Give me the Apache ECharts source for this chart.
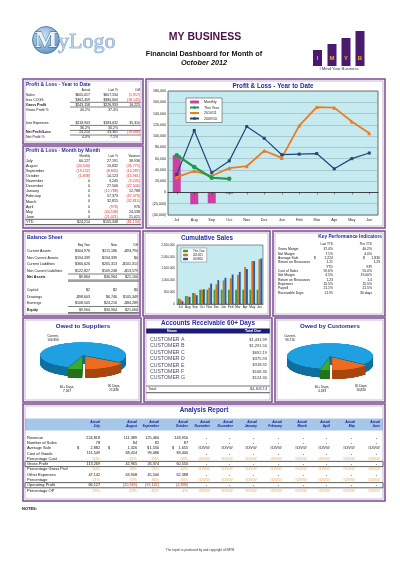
<!DOCTYPE html>
<html><head><meta charset="utf-8">
<script src="https://cdn.jsdelivr.net/npm/echarts@6/dist/echarts.min.js"></script>
<style>
html,body{margin:0;padding:0;background:#fff;}
#main{position:absolute;left:0;top:0;width:400px;height:566px;}
.pie{position:absolute;width:100px;height:134px;transform:scaleY(0.3);transform-origin:0 0;}
</style></head><body>
<div id="main"></div>
<div id="pieSup" class="pie" style="left:33px;top:340px;"></div>
<div id="pieCus" class="pie" style="left:280px;top:341px;"></div>
<script>
// ---------------- DATA ----------------
const plMonths = ['Jul','Aug','Sep','Oct','Nov','Dec','Jan','Feb','Mar','Apr','May','Jun'];
const plMonthly = [66127, -20943, -19132, -1838];
const plThisYear = [66127, 45184, 26052, 24214];
const pl2010 = [27191, 38023, 29178, 43301, 46546, 74052, 61264, 118637, 151452, 150476, 125938, 104917];
const pl2009 = [32000, 110000, 35000, 56000, 117000, 96000, 67000, 68000, 69000, 42000, 60000, 70000];

const csThisYear = [224818, 336207, 461667, 605617, 605617, 605617, 605617, 605617, 605617, 605617, 605617, 605617];
const cs2010 = [190000, 330000, 450000, 607534, 690000, 830000, 1000000, 1090000, 1230000, 1570000, 1820000, 1890000];
const cs2009 = [115000, 300000, 370000, 625000, 865000, 1010000, 1110000, 1250000, 1360000, 1480000, 1820000, 1930000];

const pieCats = ['Current', '30 Days', '60+ Days'];
const owedToSuppliers = [106890, 21836, 7567];
const owedByCustomers = [96716, 16830, 4333];

const arCustomers = ['CUSTOMER A','CUSTOMER B','CUSTOMER C','CUSTOMER D','CUSTOMER E','CUSTOMER F','CUSTOMER G'];
const arDue = [1431.99, 1291.50, 692.19, 375.93, 318.92, 168.30, 124.30];
const arTotal = 4403.13;

const ytdLabels = ['Sales','less COGS','Gross Profit','Gross Profit %','less Expenses','','Net Profit/Loss','Net Profit %'];
const ytdActual = ['$605,617','$362,459','$243,158','40.2%','$218,943','36.2%','24,214','4.0%'];
const ytdLastYr = ['$607,534','$380,600','$226,933','37.4%','$183,632','30.2%','43,301','7.1%'];
const ytdDiff = ['(1,917)','(18,141)','16,225','','35,310','','(19,086)',''];

const mbmMonths = ['July','August','September','October','November','December','January','February','March','April','May','June'];
const mbmMonthly = [66127,-20943,-19132,-1838,0,0,0,0,0,0,0,0];
const mbmLastYr = [27191,10832,-8845,14123,3245,27506,-12788,57373,32815,-976,-24538,-21021];
const mbmVariance = [38936,-31775,-10287,-15961,-3245,-27506,12788,-57373,-32815,976,24538,21021];
const mbmYtd = ['$24,214','$105,348','(81,134)'];

const bsLabels1 = ['Current Assets','Non Current Assets','Current Liabilities','Non Current Liabilities','Net Assets'];
const bsBeg1 = ['$304,976','$194,339','$366,626','$122,827','$9,864'];
const bsNow1 = ['$211,186','$194,339','$265,313','$109,248','$30,964'];
const bsDiff1 = ['-$93,790','$0','-$101,313','-$13,579','$21,100'];
const bsLabels2 = ['Capital','Drawings','Earnings','Equity'];
const bsBeg2 = ['$2','-$98,603','$108,505','$9,904'];
const bsNow2 = ['$2','$6,746','$24,216','$30,964'];
const bsDiff2 = ['$0','$105,349','-$84,289','$21,060'];

const kpiLabels = ['Gross Margin','Net Margin','Average Sale','Return on Resources','','Cost of Sales','Net Margin','Return on Resources','Expenses','Payroll','Receivable Days'];
const kpiLast = ['37.4%','7.1%','2,224','1.21','YTD','59.6%','4.5%','1.23','15.5%','21.1%','21.91'];
const kpiThis = ['40.2%','4.0%','1,830','1.23','KPI','55.0%','19.00%','1.4','15.5%','21.5%','30 days'];

const anMonths = ['July','August','September','October','November','December','January','February','March','April','May','June'];
const anRevenue = [224818, 111389, 125460, 143950];
const anSales = [78, 84, 82, 87];
const anAvgSale = [2882, 1326, 1530, 1655];
const anCOGS = [111549, 68424, 99086, 83400];
const anPctCost = [50, 61, 79, 58];
const anGross = [113269, 42965, 26374, 60550];
const anPctGross = [50, 39, 21, 42];
const anOther = [47142, 63908, 45506, 62388];
const anPctOther = [21, 57, 36, 43];
const anOpProfit = [66127, -20943, -19132, -1838];
const anPctOP = [29, -19, -15, -1];

// ---------------- HELPERS ----------------
const FF = 'Liberation Sans, Arial, sans-serif';
const TBLUE = '#1f2d9e';
const RED = '#e3261c';
const ORG = '#f4a040';
const fmtN = v => v < 0 ? '(' + Math.abs(v).toLocaleString('en-US') + ')' : v.toLocaleString('en-US');
const G = [];
function T(x, y, s, o) {
  o = o || {};
  const a = o.a || 'left';
  const st = {text: String(s), fill: o.c || '#111', fontSize: o.fs || 3.6,
    fontWeight: o.b ? 'bold' : 'normal', fontStyle: o.i ? 'italic' : 'normal',
    fontFamily: o.ff || FF, align: a, textAlign: a, verticalAlign: 'middle', textVerticalAlign: 'middle'};
  if (o.st) { st.stroke = o.st; st.lineWidth = o.lw || 0.5; }
  G.push({type: 'text', x: x, y: y, silent: true, z: o.z || 30, style: st});
}
function R(x, y, w, h, fill, stroke, lw, z) {
  G.push({type: 'rect', silent: true, z: z || 1, shape: {x: x, y: y, width: w, height: h},
    style: {fill: fill || 'none', stroke: stroke || 'none', lineWidth: lw || 0}});
}
function L(x1, y1, x2, y2, c, w) {
  G.push({type: 'line', silent: true, z: 25, shape: {x1: x1, y1: y1, x2: x2, y2: y2}, style: {stroke: c || '#333', lineWidth: w || 0.5}});
}
function panel(x, y, w, h) {
  R(x, y, w, h, null, '#7b4a90', 1.5, 40);
  R(x + 2, y + 2, w - 4, h - 4, null, '#a98bb8', 0.6, 40);
}
const colorOf = s => String(s).charAt(0) === '(' ? RED : '#111';

// ---------------- HEADER ----------------
G.push({type: 'circle', silent: true, z: 5, shape: {cx: 46, cy: 40, r: 13.5},
  style: {fill: {type: 'radial', x: 0.4, y: 0.35, r: 0.8, colorStops: [{offset: 0, color: '#cfe2f2'}, {offset: 1, color: '#4f86b8'}]}, stroke: '#3a6d9c', lineWidth: 0.8}});
T(46, 41, 'M', {fs: 24, b: true, ff: 'Liberation Serif, serif', c: '#e9f2fa', st: '#2f5f8f', lw: 0.8, a: 'center'});
T(58, 42, 'yLogo', {fs: 22, ff: 'Liberation Serif, serif', c: '#b3cde6', st: '#5a86b2', lw: 0.6});
T(205, 37, 'MY BUSINESS', {fs: 10.5, b: true, c: '#4a0f4a', a: 'center'});
T(204, 54, 'Financial Dashboard for Month of', {fs: 7.3, b: true, c: '#111', a: 'center'});
T(204, 63, 'October 2012', {fs: 7.3, b: true, i: true, c: '#111', a: 'center'});
// IMYB logo
const logoLetters = ['I', 'M', 'Y', 'B'];
const logoX = [313, 327.5, 341.5, 355.5];
const logoTop = [50, 44, 38, 31];
logoLetters.forEach((l, i) => {
  R(logoX[i], logoTop[i], 9, 66 - logoTop[i], '#4a1970', null, 0, 5);
  T(logoX[i] + 4.5, 58.5, l, {fs: 6, b: true, c: '#f5b21e', a: 'center'});
});
T(339, 68.5, 'I Mind Your Business', {fs: 4.2, c: '#3d1f6b', a: 'center'});

// ---------------- PANELS ----------------
panel(23, 79, 120, 65);
panel(23, 146, 120, 82);
panel(146, 79, 239, 149);
panel(23, 231, 117, 85);
panel(143, 231, 127, 85);
panel(273, 231, 112, 85);
panel(23, 318, 118, 84);
panel(144, 318, 128, 84);
panel(275, 318, 110, 84);
panel(23, 404, 362, 97);

// ---------------- P&L YTD TABLE ----------------
const c3 = [90, 118, 140];
T(26, 84.5, 'Profit & Loss - Year to Date', {fs: 5, b: true, c: TBLUE});
T(c3[0], 90.5, 'Actual', {fs: 3, a: 'right'});
T(c3[1], 90.5, 'Last Yr', {fs: 3, a: 'right'});
T(c3[2], 90.5, 'Diff', {fs: 3, a: 'right'});
ytdLabels.forEach((lab, i) => {
  const y = i < 4 ? 95.5 + i * 4.7 : 123 + (i - 4) * 4.7;
  const bold = lab === 'Gross Profit' || lab === 'Net Profit/Loss';
  T(26, y, lab, {fs: 3.5, b: bold});
  T(c3[0], y, ytdActual[i], {fs: 3.5, a: 'right', c: colorOf(ytdActual[i])});
  T(c3[1], y, ytdLastYr[i], {fs: 3.5, a: 'right', c: colorOf(ytdLastYr[i])});
  T(c3[2], y, ytdDiff[i], {fs: 3.5, a: 'right', c: colorOf(ytdDiff[i])});
});
L(70, 102.3, 141, 102.3, '#222', 0.6);
L(70, 107, 141, 107, '#222', 0.6);
L(70, 125.4, 141, 125.4, '#222', 0.6);
L(70, 130.4, 141, 130.4, '#222', 0.6);
L(70, 135, 141, 135, '#222', 0.6);

// ---------------- MONTH BY MONTH ----------------
T(26, 150.8, 'Profit & Loss - Month by Month', {fs: 5, b: true, c: TBLUE});
T(c3[0], 156, 'Monthly', {fs: 3, a: 'right'});
T(c3[1], 156, 'Last Yr', {fs: 3, a: 'right'});
T(c3[2], 156, 'Variance', {fs: 3, a: 'right'});
mbmMonths.forEach((m, i) => {
  const y = 161 + i * 5.06;
  T(26, y, m, {fs: 3.7});
  T(c3[0], y, fmtN(mbmMonthly[i]), {fs: 3.6, a: 'right', c: mbmMonthly[i] < 0 ? RED : '#111'});
  T(c3[1], y, fmtN(mbmLastYr[i]), {fs: 3.6, a: 'right', c: mbmLastYr[i] < 0 ? RED : '#111'});
  T(c3[2], y, fmtN(mbmVariance[i]), {fs: 3.6, a: 'right', c: mbmVariance[i] < 0 ? RED : '#111'});
});
L(25, 219.3, 141, 219.3, '#222', 0.7);
T(26, 222, 'YTD', {fs: 3.7});
mbmYtd.forEach((s, i) => T(c3[i], 222, s, {fs: 3.6, a: 'right', c: colorOf(s)}));
L(25, 224.5, 141, 224.5, '#222', 0.7);

// ---------------- BALANCE SHEET ----------------
const bc = [90, 117, 138];
T(27, 238, 'Balance Sheet', {fs: 5.2, b: true, c: TBLUE});
T(bc[0], 245, 'Beg Year', {fs: 3, a: 'right'});
T(bc[1], 245, 'Now', {fs: 3, a: 'right'});
T(bc[2], 245, 'Diff', {fs: 3, a: 'right'});
bsLabels1.forEach((lab, i) => {
  const y = 251 + i * 6.5;
  T(27, y, lab, {fs: 3.6, b: lab === 'Net Assets'});
  T(bc[0], y, bsBeg1[i], {fs: 3.6, a: 'right'});
  T(bc[1], y, bsNow1[i], {fs: 3.6, a: 'right'});
  T(bc[2], y, bsDiff1[i], {fs: 3.6, a: 'right'});
});
L(68, 274, 139, 274, '#222', 0.6);
L(68, 280, 139, 280, '#222', 0.6);
L(68, 281.2, 139, 281.2, '#222', 0.6);
bsLabels2.forEach((lab, i) => {
  const y = 290 + i * 6.5;
  T(27, y, lab, {fs: 3.6, b: lab === 'Equity'});
  T(bc[0], y, bsBeg2[i], {fs: 3.6, a: 'right'});
  T(bc[1], y, bsNow2[i], {fs: 3.6, a: 'right'});
  T(bc[2], y, bsDiff2[i], {fs: 3.6, a: 'right'});
});
L(68, 306.5, 139, 306.5, '#222', 0.6);
L(68, 312.5, 139, 312.5, '#222', 0.6);
L(68, 313.7, 139, 313.7, '#222', 0.6);

// ---------------- KPI ----------------
T(382, 237, 'Key Performance Indicators', {fs: 4.8, b: true, c: TBLUE, a: 'right'});
T(333, 244.5, 'Last YTD', {fs: 3, a: 'right'});
T(372, 244.5, 'This YTD', {fs: 3, a: 'right'});
kpiLabels.forEach((lab, i) => {
  const y = 249.3 + i * 4.35;
  T(278, y, lab, {fs: 3.4});
  if (lab === 'Average Sale') {
    T(314, y, '$', {fs: 3.4}); T(333, y, kpiLast[i], {fs: 3.4, a: 'right'});
    T(363, y, '$', {fs: 3.4}); T(380, y, kpiThis[i], {fs: 3.4, a: 'right'});
  } else {
    T(333, y, kpiLast[i], {fs: 3.4, a: 'right'});
    T(i === 3 ? 380 : 372, y, kpiThis[i], {fs: 3.4, a: 'right'});
  }
});

// ---------------- CHART TITLES ----------------
T(273, 86, 'Profit & Loss - Year to Date', {fs: 6.3, b: true, c: TBLUE, a: 'center'});
T(207, 238, 'Cumulative Sales', {fs: 6.3, b: true, c: TBLUE, a: 'center'});
T(83, 326.5, 'Owed to Suppliers', {fs: 6.2, b: true, c: TBLUE, a: 'center'});
T(330, 326.5, 'Owed by Customers', {fs: 6.2, b: true, c: TBLUE, a: 'center'});

// pie labels
function pieLabels(vals, pos) {
  vals.forEach((v, i) => {
    T(pos[i][0], pos[i][1], pieCats[i] + ',', {fs: 3.2, a: 'center'});
    T(pos[i][0], pos[i][1] + 4, v.toLocaleString('en-US'), {fs: 3.2, a: 'center'});
  });
}
pieLabels(owedToSuppliers, [[53, 336.5], [114, 386], [67, 387]]);
pieLabels(owedByCustomers, [[290, 336.5], [361, 386], [322, 387]]);

// ---------------- ACCOUNTS RECEIVABLE ----------------
T(208, 323.5, 'Accounts Receivable 60+ Days', {fs: 6.4, b: true, c: TBLUE, a: 'center'});
R(146, 328.6, 124, 5, '#1b1b7e', null, 0, 5);
T(172, 331.2, 'Name', {fs: 3.6, b: true, c: '#fff', a: 'center'});
T(253, 331.2, 'Total Due', {fs: 3.6, b: true, c: '#fff', a: 'center'});
arCustomers.forEach((c, i) => {
  const y = 339.7 + i * 6.35;
  T(150, y, c, {fs: 5.2, c: '#4b4b6b'});
  T(267, y, '$' + arDue[i].toLocaleString('en-US', {minimumFractionDigits: 2}), {fs: 4, c: '#333', a: 'right'});
});
L(146, 386, 270, 386, '#777', 1.2);
T(148, 389.3, 'Total:', {fs: 3.8, c: '#333'});
T(267, 389.3, '$' + arTotal.toLocaleString('en-US', {minimumFractionDigits: 2}), {fs: 3.8, c: '#333', a: 'right'});
L(146, 392.7, 270, 392.7, '#777', 1.2);

// ---------------- ANALYSIS REPORT ----------------
T(204, 410, 'Analysis Report', {fs: 6.4, b: true, c: TBLUE, a: 'center'});
R(25, 418.5, 358, 12, '#a5c8ea', null, 0, 2);
const anCols = [100, 137, 159, 188, 210, 233, 257, 282, 307, 330, 355, 380];
anMonths.forEach((m, i) => {
  T(anCols[i], 421.8, 'Actual', {fs: 3.2, b: true, i: true, c: '#16168a', a: 'right'});
  T(anCols[i], 426.6, m, {fs: 3.2, b: true, i: true, c: '#16168a', a: 'right'});
});
const anRows = [
  ['Revenue', anRevenue, 'num'], ['Number of Sales', anSales, 'num'], ['Average Sale', anAvgSale, 'cur'],
  ['Cost of Goods', anCOGS, 'num'], ['Percentage Cost', anPctCost, 'pct'], ['Gross Profit', anGross, 'num'],
  ['Percentage Gross Prof', anPctGross, 'pct'], ['Other Expenses', anOther, 'num'], ['Percentage', anPctOther, 'pct'],
  ['Operating Profit', anOpProfit, 'num'], ['Percentage OP', anPctOP, 'pct']
];
const dollarX = [77, 108, 147, 172];
anRows.forEach((r, ri) => {
  const y = 437.5 + ri * 5.3;
  T(27, y, r[0], {fs: 4});
  if (r[0] === 'Gross Profit' || r[0] === 'Operating Profit') R(25, y - 2.6, 358, 5.2, null, '#333', 0.8, 20);
  for (let i = 0; i < 12; i++) {
    const v = r[1][i];
    if (v === undefined) {
      if (r[2] === 'num') T(anCols[i] - 3, y, '-', {fs: 4, a: 'right'});
      else T(anCols[i], y, '#DIV/0!', {fs: 3.6, a: 'right', c: r[2] === 'pct' ? ORG : '#111'});
    } else if (r[2] === 'pct') {
      T(anCols[i], y, v + '%', {fs: 3.8, a: 'right', c: ORG});
    } else if (r[2] === 'cur') {
      T(dollarX[i], y, '$', {fs: 3.8});
      T(anCols[i], y, v.toLocaleString('en-US'), {fs: 3.8, a: 'right'});
    } else {
      T(anCols[i], y, fmtN(v), {fs: 3.8, a: 'right', c: v < 0 ? RED : '#111'});
    }
  }
});
T(22, 509, 'NOTES:', {fs: 4, b: true});
T(200, 550.5, 'The report is produced by and copyright of IMYB', {fs: 3.2, c: '#333', a: 'center'});

// ---------------- MAIN CHART ----------------
const main = echarts.init(document.getElementById('main'), null, {renderer: 'canvas', width: 400, height: 566});
main.setOption({
  animation: false,
  backgroundColor: '#ffffff',
  textStyle: {fontFamily: FF},
  graphic: {elements: G},
  legend: [
    {left: 186, top: 98, orient: 'vertical', data: ['Monthly', 'This Year', '2010/11', '2009/10'],
     backgroundColor: '#fff', borderColor: '#333', borderWidth: 0.5, padding: [2, 3], itemGap: 1.5,
     itemWidth: 9, itemHeight: 3, textStyle: {fontSize: 3.6, color: '#222'}},
    {left: 181, top: 248, orient: 'vertical', data: ['Sales This Year', 'Sales 2010/11', 'Sales 2009/10'],
     formatter: n => n.replace('Sales ', ''), backgroundColor: '#fff', borderColor: '#555', borderWidth: 0.4,
     padding: [1.5, 2], itemGap: 1, itemWidth: 5, itemHeight: 2.4, textStyle: {fontSize: 2.8, color: '#222'}}
  ],
  grid: [
    {left: 168, top: 91, width: 210, height: 124, show: true, backgroundColor: '#c5ebf1', borderColor: '#4a4a4a', borderWidth: 0.8},
    {left: 177, top: 245, width: 86, height: 59, show: true, backgroundColor: '#c5ebf1', borderColor: '#4a4a4a', borderWidth: 0.6}
  ],
  xAxis: [
    {gridIndex: 0, type: 'category', data: plMonths, z: 5,
     axisLine: {onZero: true, lineStyle: {color: '#222', width: 0.8}},
     axisTick: {show: true, length: 2, alignWithLabel: true, lineStyle: {color: '#222', width: 0.5}},
     axisLabel: {interval: 0, fontSize: 3.8, color: '#222', margin: 3}},
    {gridIndex: 1, type: 'category', data: plMonths,
     axisLine: {lineStyle: {color: '#333', width: 0.6}}, axisTick: {show: false},
     axisLabel: {interval: 0, fontSize: 3.1, color: '#222', margin: 2}}
  ],
  yAxis: [
    {gridIndex: 0, type: 'value', min: -40000, max: 180000, interval: 20000,
     axisLabel: {fontSize: 3.6, color: '#222', margin: 2, formatter: fmtN},
     splitLine: {lineStyle: {color: '#8aa6ae', width: 0.5}}, axisLine: {show: false}, axisTick: {show: false}},
    {gridIndex: 1, type: 'value', min: 0, max: 2500000, interval: 500000,
     axisLabel: {fontSize: 3.1, color: '#222', margin: 2, formatter: v => v.toLocaleString('en-US')},
     splitLine: {show: false}, axisLine: {show: false}, axisTick: {show: false}}
  ],
  series: [
    {name: 'Monthly', type: 'bar', xAxisIndex: 0, yAxisIndex: 0, data: plMonthly, barWidth: 8, itemStyle: {color: '#cf3fa3'}},
    {name: 'This Year', type: 'line', xAxisIndex: 0, yAxisIndex: 0, data: plThisYear, symbol: 'circle', symbolSize: 4.5,
     lineStyle: {width: 2.2, color: '#1c9b4b'}, itemStyle: {color: '#1c9b4b'}, z: 4},
    {name: '2010/11', type: 'line', xAxisIndex: 0, yAxisIndex: 0, data: pl2010, symbol: 'triangle', symbolSize: 4,
     lineStyle: {width: 1.8, color: '#f07a1e'}, itemStyle: {color: '#f07a1e'}, z: 3},
    {name: '2009/10', type: 'line', xAxisIndex: 0, yAxisIndex: 0, data: pl2009, symbol: 'rect', symbolSize: 3,
     lineStyle: {width: 1.2, color: '#1e4a7a'}, itemStyle: {color: '#1e4a7a'}, z: 3},
    {name: 'Sales This Year', type: 'bar', xAxisIndex: 1, yAxisIndex: 1, data: csThisYear, barGap: '0%', barCategoryGap: '22%', itemStyle: {color: '#3b9a3b'}},
    {name: 'Sales 2010/11', type: 'bar', xAxisIndex: 1, yAxisIndex: 1, data: cs2010, barGap: '0%', barCategoryGap: '22%', itemStyle: {color: '#e36c1c'}},
    {name: 'Sales 2009/10', type: 'bar', xAxisIndex: 1, yAxisIndex: 1, data: cs2009, barGap: '0%', barCategoryGap: '22%', itemStyle: {color: '#1f5f9f'}}
  ]
});

// ---------------- 3D-LOOK PIES ----------------
const pieTop = ['#1fa0e0', '#ee6a1c', '#3caa2c'];
const pieSide = ['#10709f', '#a7460f', '#23731a'];
function pieLayer(vals, colors, center, startAngle) {
  return {type: 'pie', center: center, radius: 43, startAngle: startAngle, clockwise: true, silent: true,
    selectedMode: 'multiple', selectedOffset: 5, label: {show: false}, labelLine: {show: false},
    emphasis: {disabled: true}, animation: false,
    data: vals.map((v, i) => ({name: pieCats[i], value: v, selected: i > 0, itemStyle: {color: colors[i], borderWidth: 0}}))};
}
function buildPie(id, vals, startAngle) {
  const series = [];
  for (let d = 30; d >= 1; d -= 1.5) series.push(pieLayer(vals, pieSide, [50, 50 + d], startAngle));
  series.push(pieLayer(vals, pieTop, [50, 50], startAngle));
  const ch = echarts.init(document.getElementById(id), null, {renderer: 'canvas', width: 100, height: 134});
  ch.setOption({animation: false, series: series});
}
buildPie('pieSup', owedToSuppliers, 250);
buildPie('pieCus', owedByCustomers, 257);
</script>
</body></html>
